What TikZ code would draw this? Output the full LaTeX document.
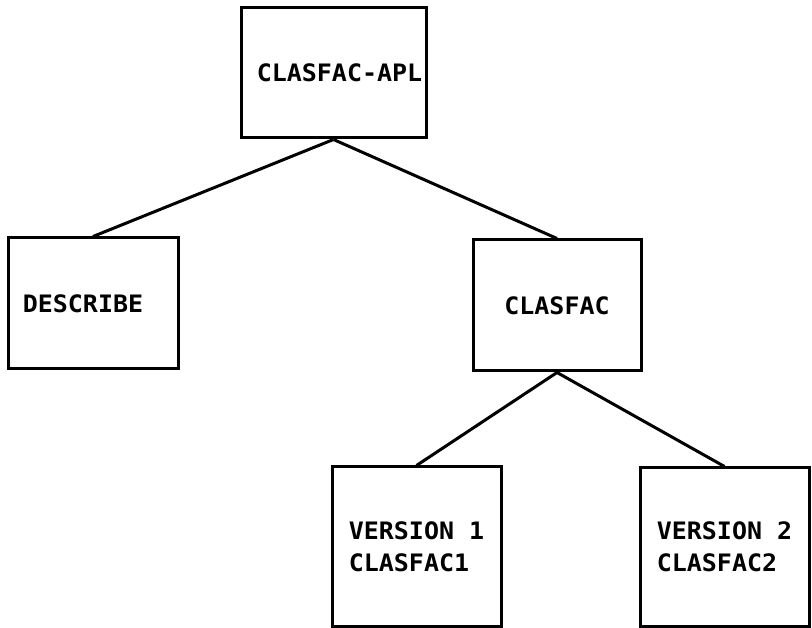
\documentclass[tikz,border=0pt]{standalone}
\usepackage{fontspec}
\newfontfamily\printfont{DejaVu Sans Mono}[FakeStretch=1.04]
\begin{document}
\begin{tikzpicture}[x=1pt,y=-1pt,
  box/.style={draw, line width=3pt, rectangle, inner sep=0pt, align=left,
    font=\printfont\bfseries\fontsize{24}{32}\selectfont},
  link/.style={line width=3pt}]
\useasboundingbox (0,0) rectangle (812,628);
\fill[white] (0,0) rectangle (812,628);
\node[box, minimum width=185pt, minimum height=130pt] (apl) at (333.5,73) {\hspace*{12pt}CLASFAC-APL};
\node[box, minimum width=170pt, minimum height=131pt] (describe) at (93,303.5) {DESCRIBE\hspace*{20pt}};
\node[box, minimum width=168pt, minimum height=131pt] (clasfac) at (557,305.5) {CLASFAC};
\node[box, minimum width=169pt, minimum height=159pt] (v1) at (416.5,546.5) {VERSION 1\\CLASFAC1};
\node[box, minimum width=169pt, minimum height=158pt] (v2) at (724.5,547) {VERSION 2\\CLASFAC2};
\draw[link] (apl.south) -- (describe.north);
\draw[link] (apl.south) -- (clasfac.north);
\draw[link] (clasfac.south) -- (v1.north);
\draw[link] (clasfac.south) -- (v2.north);
\end{tikzpicture}
\end{document}
